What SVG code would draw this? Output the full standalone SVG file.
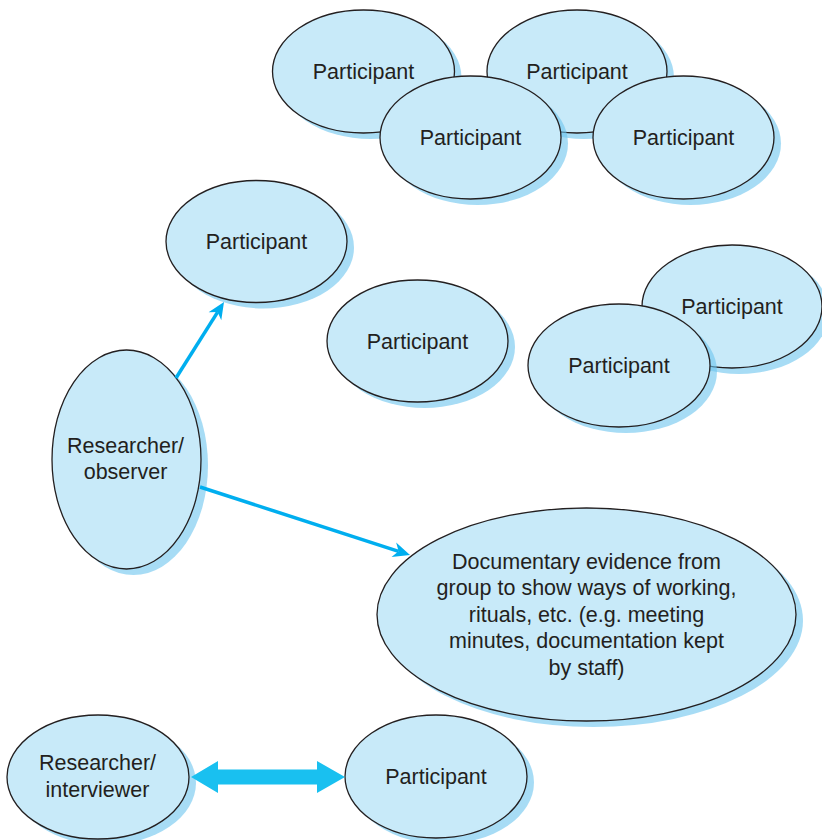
<svg xmlns="http://www.w3.org/2000/svg" width="822" height="840" viewBox="0 0 822 840">
<style>
.sh{fill:#6cc5ee;fill-opacity:0.6}
.nd{fill:#c8eaf9;stroke:#231f20;stroke-width:1.3}
.t{font-family:"Liberation Sans",Arial,sans-serif;font-size:21.5px;fill:#231f20;text-anchor:middle}
.ln{stroke:#00aeef;stroke-width:3.5;fill:none}
</style>
<defs>
<marker id="ah" markerUnits="userSpaceOnUse" markerWidth="18" markerHeight="16" refX="5" refY="7.5" orient="auto" overflow="visible">
<path d="M0,0 L17,7.5 L0,15 L5,7.5 Z" fill="#00aeef"/>
</marker>
</defs>
<rect width="822" height="840" fill="#ffffff"/>

<g id="p-top-left">
<ellipse class="sh" cx="370.5" cy="77.5" rx="91" ry="61.5"/>
<ellipse class="nd" cx="363.5" cy="71.5" rx="91" ry="61.5"/>
<text class="t" x="363.5" y="79">Participant</text>
</g>
<g id="p-top-right">
<ellipse class="sh" cx="584" cy="77.5" rx="90" ry="61.5"/>
<ellipse class="nd" cx="577" cy="71.5" rx="90" ry="61.5"/>
<text class="t" x="577" y="79">Participant</text>
</g>
<g id="p-mid-left">
<ellipse class="sh" cx="477.5" cy="143.5" rx="90.5" ry="61.5"/>
<ellipse class="nd" cx="470.5" cy="137.5" rx="90.5" ry="61.5"/>
<text class="t" x="470.5" y="145">Participant</text>
</g>
<g id="p-mid-right">
<ellipse class="sh" cx="690.5" cy="143.5" rx="90.5" ry="61.5"/>
<ellipse class="nd" cx="683.5" cy="137.5" rx="90.5" ry="61.5"/>
<text class="t" x="683.5" y="145">Participant</text>
</g>
<g id="p-upper">
<ellipse class="sh" cx="263.5" cy="247.5" rx="90.5" ry="61"/>
<ellipse class="nd" cx="256.5" cy="241.5" rx="90.5" ry="61"/>
<text class="t" x="256.5" y="249">Participant</text>
</g>
<g id="p-centre">
<ellipse class="sh" cx="424.5" cy="347" rx="90.5" ry="61"/>
<ellipse class="nd" cx="417.5" cy="341" rx="90.5" ry="61"/>
<text class="t" x="417.5" y="348.5">Participant</text>
</g>
<g id="p-right-back">
<ellipse class="sh" cx="739" cy="312.5" rx="90" ry="61.5"/>
<ellipse class="nd" cx="732" cy="306.5" rx="90" ry="61.5"/>
<text class="t" x="732" y="314">Participant</text>
</g>
<g id="p-right-front">
<ellipse class="sh" cx="626" cy="371.5" rx="91" ry="61.5"/>
<ellipse class="nd" cx="619" cy="365.5" rx="91" ry="61.5"/>
<text class="t" x="619" y="373">Participant</text>
</g>
<g id="observer">
<ellipse class="sh" cx="133.5" cy="465.5" rx="74.5" ry="109.5"/>
<ellipse class="nd" cx="126.5" cy="459.5" rx="74.5" ry="109.5"/>
<text class="t" x="125.5" y="453">Researcher/</text>
<text class="t" x="125.5" y="479">observer</text>
</g>
<g id="documents">
<ellipse class="sh" cx="593.5" cy="620.5" rx="209.5" ry="106.5"/>
<ellipse class="nd" cx="586.5" cy="614.5" rx="209.5" ry="106.5"/>
<text class="t" x="586.5" y="568.5">Documentary evidence from</text>
<text class="t" x="586.5" y="595">group to show ways of working,</text>
<text class="t" x="586.5" y="621.5">rituals, etc. (e.g. meeting</text>
<text class="t" x="586.5" y="648">minutes, documentation kept</text>
<text class="t" x="586.5" y="674.5">by staff)</text>
</g>
<g id="interviewer">
<ellipse class="sh" cx="105" cy="783" rx="91" ry="62"/>
<ellipse class="nd" cx="98" cy="777" rx="91" ry="62"/>
<text class="t" x="97.5" y="770">Researcher/</text>
<text class="t" x="97.5" y="797">interviewer</text>
</g>
<g id="p-bottom">
<ellipse class="sh" cx="443" cy="782.5" rx="91" ry="61.5"/>
<ellipse class="nd" cx="436" cy="776.5" rx="91" ry="61.5"/>
<text class="t" x="436" y="784">Participant</text>
</g>

<g id="connectors">
<path class="ln" d="M176,378 L217.6,312.1" marker-end="url(#ah)"/>
<path class="ln" d="M200,487 L398.6,551.3" marker-end="url(#ah)"/>
<path d="M191,777 L218,761 L218,769.5 L317,769.5 L317,761 L345,777 L317,793 L317,784.5 L218,784.5 L218,793 Z" fill="#19c0f0"/>
</g>
</svg>
